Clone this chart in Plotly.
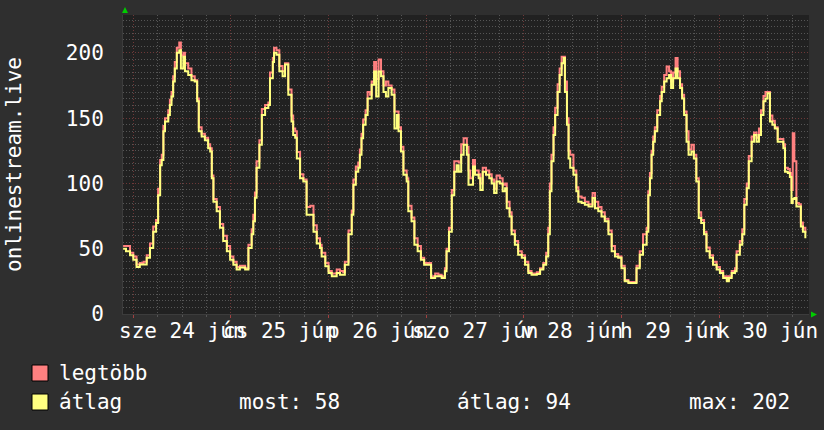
import pandas as pd
import plotly.graph_objects as go

# ---- data (hours since 2020-06-24 00:00) ----
hours = [-2.5, -1.8, -0.8, 0.0, 0.8, 1.6, 2.5, 3.3, 4.1, 4.9, 5.6, 6.1, 6.6, 7.0, 7.4, 7.8, 8.6, 9.0, 9.4, 9.8,
         10.2, 10.7, 11.3, 11.7, 12.3, 12.7, 13.5, 14.3, 15.1, 15.7, 16.1, 16.8, 17.6, 18.4, 18.9, 19.3, 19.7, 20.5,
         21.3, 22.1, 23.0, 23.8, 24.6, 25.4, 26.2, 27.5, 28.3, 29.1, 29.5, 29.9, 30.3, 31.0, 31.6, 32.4, 33.2, 33.6,
         34.3, 34.6, 35.2, 35.9, 36.7, 37.3, 38.1, 38.9, 39.3, 39.8, 40.2, 41.0, 41.8, 42.6, 43.5, 44.3, 45.1, 45.9,
         46.3, 47.2, 48.0, 48.8, 50.0, 50.8, 51.6, 52.0, 52.9, 53.7, 54.1, 54.7, 55.3, 55.7, 56.1, 56.5, 57.1, 57.6,
         58.2, 58.6, 59.2, 59.7, 60.3, 60.9, 61.5, 62.1, 62.7, 63.5, 64.2, 64.8, 65.2, 65.8, 66.4, 67.2, 67.6, 68.4,
         69.1, 69.9, 70.7, 71.5, 72.5, 73.2, 74.2, 75.0, 75.8, 76.6, 77.0, 77.6, 78.3, 78.9, 79.5, 80.0, 80.6, 81.2,
         82.0, 82.4, 82.8, 83.5, 84.0, 84.9, 85.3, 85.9, 86.7, 87.5, 88.1, 88.7, 89.3, 90.1, 90.8, 91.4, 91.8, 92.5,
         93.0, 93.8, 94.6, 95.5, 96.3, 97.1, 97.9, 99.2, 100.0, 100.8, 101.5, 102.0, 102.4, 102.8, 103.3, 103.7,
         104.3, 104.8, 105.3, 105.8, 106.1, 106.6, 107.0, 107.4, 108.2, 108.9, 109.4, 110.2, 111.0, 111.9, 112.9,
         113.5, 114.3, 115.1, 115.9, 116.8, 117.6, 118.4, 119.2, 120.0, 120.8, 121.7, 122.9, 123.7, 124.5, 125.3,
         126.2, 126.6, 127.0, 127.4, 127.8, 128.2, 128.8, 129.5, 129.9, 130.5, 131.1, 131.7, 132.2, 132.7, 133.3,
         133.8, 134.4, 134.9, 135.4, 136.0, 136.5, 137.2, 137.8, 138.4, 139.0, 139.6, 140.3, 140.9, 141.7, 142.5,
         143.4, 144.2, 145.0, 145.9, 146.4, 147.1, 147.9, 148.3, 149.1, 149.7, 150.2, 150.8, 151.3, 152.0, 152.6,
         153.2, 153.8, 154.3, 154.9, 155.4, 155.9, 156.5, 157.1, 157.7, 158.4, 159.2, 159.8, 160.2, 160.9, 161.4,
         161.8, 162.1, 162.5, 163.0, 163.6, 164.1, 164.6, 165.2]

atlag = [50, 48, 45, 41.5, 36, 38, 38, 43, 50.5, 63, 69.6, 91, 114, 118, 140, 147.5, 152.5, 160, 166.6, 178,
         188, 200, 202, 188, 197, 186, 183, 179, 178, 163, 140, 136, 133, 127, 124.5, 104, 86, 78.6,
         66, 56, 48, 41.5, 37.8, 34, 35.7, 34, 50.5, 61, 71, 89, 112, 129.6, 152.5, 157.7, 160, 180.6,
         193, 200, 198.5, 186, 182, 191, 168, 147.5, 137, 135, 119, 104, 101.5, 76, 76, 63, 54, 50.5,
         44, 36.5, 31.4, 29, 31.4, 30, 30, 37.8, 61, 76, 99, 109, 112, 122, 134.7, 145, 152.5, 165,
         165, 175.5, 185.7, 166.6, 185.7, 182, 170, 166.6, 173, 168, 142, 152.5, 140, 124.5, 106.6, 101.5, 78.6, 71,
         53, 48, 41.5, 37.8, 37.8, 27.6, 29, 29, 27.6, 32.7, 48, 63, 91, 109, 114, 109, 122, 129.6,
         122, 99, 99, 113, 106.6, 104, 95, 109, 106.6, 104, 100, 92.6, 101.5, 100, 94, 96.4, 81, 74.7,
         61, 53, 45.4, 43, 37.8, 31.4, 30, 30.6, 34, 37.8, 44, 61, 94, 117, 137, 152.5,
         170, 183, 192, 196, 170, 145, 119, 112, 106.6, 94, 86, 85, 83.7, 82.4, 88.8,
         81, 78.6, 74.7, 71, 61, 48, 44, 43, 35, 25, 23.7, 23.7, 35, 45.4, 53,
         63, 91, 104, 122, 132, 140, 152.5, 163, 170, 178, 180.6, 183, 173, 180.6, 188,
         180.6, 173, 165, 152.5, 132, 122, 124.5, 119, 101.5, 73.5, 69.6, 61, 48, 43, 37.8,
         34, 31.4, 27.6, 25, 27.6, 31.4, 32.7, 45.4, 53, 61, 83.7, 96.4, 117, 132, 137,
         132, 137, 152.5, 163, 165, 169, 147.5, 145, 142, 132, 132, 127, 109, 108, 105,
         85, 88, 88.8, 82.4, 82.4, 67, 63, 58]

legtobb = [52, 52, 47, 44, 38, 39, 40, 45, 54, 67, 72, 96, 118, 122, 144, 150, 156, 164, 170, 182,
           193, 204, 208, 198, 200, 192, 188, 182, 179, 165, 143, 138, 135, 130, 127, 106, 88, 82,
           69, 60, 52, 44, 40, 36, 37, 35, 53, 65, 76, 93, 117, 133, 157, 160, 162, 185,
           196, 204, 202, 190, 186, 192, 172, 152, 142, 140, 124, 107, 103, 82, 83, 68, 58, 53,
           47, 39, 33, 31, 34, 33, 32, 40, 64, 79, 103, 113, 116, 126, 138, 149, 156, 170,
           168, 178, 193, 180, 195, 186, 175, 178, 175, 172, 155, 155, 143, 128, 110, 104, 83, 74,
           58, 52, 43, 39, 39, 29, 31, 30, 29, 35, 50, 66, 95, 117, 117, 116, 130, 134.7,
           128, 110, 104, 118, 110, 107, 100, 112, 110, 107, 103, 96, 106, 104, 99, 100, 86, 78,
           64, 56, 48, 45, 40, 33, 31, 32, 35, 39, 47, 66, 100, 122, 143, 158,
           176, 188, 197, 197, 178, 150, 125, 122, 110, 97, 90, 89, 86, 84, 92.6,
           86, 82, 78, 73, 64, 52, 46, 44, 37, 26, 24.5, 24.5, 37, 48, 61,
           66, 94, 108, 125, 136, 143, 156, 167, 174, 183, 189.5, 186, 178, 185, 196,
           186, 176, 168, 155, 140, 126, 129.6, 122, 104, 78, 72, 63, 51, 45, 40,
           36, 33, 29, 26, 29, 33, 35, 48, 56, 65, 88, 100, 121, 136, 139,
           135, 142, 156, 167, 170, 170, 152, 148, 143, 134, 134, 130, 112, 111, 108,
           95, 138.5, 117, 85, 84, 70, 66, 62]

day_labels = ["sze 24 jún", "cs 25 jún", "p 26 jún", "szo 27 jún", "v 28 jún", "h 29 jún", "k 30 jún"]
y_ticks = [0, 50, 100, 150, 200]
series_names = ["legtöbb", "átlag"]
series_colors = ["#ff8080", "#ffff80"]
stat_names = ["most", "átlag", "max"]
stat_values = [58, 94, 202]
y_title = "onlinestream.live"

# ---- geometry ----
W, H = 824, 430
L, R, T, B = 123, 809, 15, 314
FONT = "DejaVu Sans Mono"
FS = 21


def px(x):
    return (x - L) / (R - L)


def py(y):
    return (B - y) / (B - T)


base = pd.Timestamp("2020-06-24 00:00")
xs = base + pd.to_timedelta(hours, unit="h")

fig = go.Figure()
fig.add_trace(go.Scatter(x=xs, y=legtobb, mode="lines", line=dict(color=series_colors[0], width=2, shape="hv"),
                         name=series_names[0], hoverinfo="skip"))
fig.add_trace(go.Scatter(x=xs, y=atlag, mode="lines", line=dict(color=series_colors[1], width=2, shape="hv"),
                         name=series_names[1], hoverinfo="skip"))

x0 = base + pd.Timedelta(hours=-2.53)
x1 = base + pd.Timedelta(hours=166.1)

major_grid = "#6e3838"
minor_grid = "#555555"

fig.update_layout(
    width=W, height=H,
    margin=dict(l=L, r=W - R, t=T, b=H - B, pad=0),
    paper_bgcolor="#2f2f2f",
    plot_bgcolor="#212121",
    showlegend=False,
    font=dict(family=FONT, size=FS, color="#ffffff"),
    xaxis=dict(
        range=[x0, x1], type="date",
        tick0=base, dtick=86400000,
        showgrid=True, gridcolor=major_grid, griddash="1px,2px", gridwidth=1,
        showticklabels=False, ticks="outside", ticklen=3, tickcolor="#a04040",
        zeroline=False, showline=True, linecolor="#3c3c3c", linewidth=1,
        minor=dict(dtick=6 * 3600000, showgrid=True, gridcolor=minor_grid, griddash="1px,2px",
                   ticks="outside", ticklen=2, tickcolor="#555555"),
        fixedrange=True,
    ),
    yaxis=dict(
        range=[0, 229], tickmode="array", tickvals=y_ticks, ticktext=[str(v) for v in y_ticks],
        showgrid=True, gridcolor=major_grid, griddash="1px,2px", gridwidth=1,
        tickfont=dict(family=FONT, size=FS, color="#ffffff"),
        ticks="", ticklabelstandoff=14,
        zeroline=False, showline=True, linecolor="#3c3c3c", linewidth=1,
        minor=dict(dtick=5, tick0=0, showgrid=True, gridcolor=minor_grid, griddash="1px,2px"),
        fixedrange=True,
    ),
)

ann = []
for i, lab in enumerate(day_labels):
    ann.append(dict(x=base + pd.Timedelta(days=i, hours=12), xref="x", y=py(331), yref="paper",
                    text=lab, showarrow=False, xanchor="center", yanchor="middle",
                    font=dict(family=FONT, size=FS, color="#ffffff")))

ann.append(dict(x=px(14), y=py(165), xref="paper", yref="paper", text=y_title, textangle=-90,
                showarrow=False, xanchor="center", yanchor="middle",
                font=dict(family=FONT, size=FS, color="#ffffff")))

rows_y = [373, 402]
for name, ry in zip(series_names, rows_y):
    ann.append(dict(x=px(57), y=py(ry), xref="paper", yref="paper", text=name, showarrow=False,
                    xanchor="left", yanchor="middle", font=dict(family=FONT, size=FS, color="#ffffff")))

stat_x = [237, 455, 687]
for nm, val, sx in zip(stat_names, stat_values, stat_x):
    ann.append(dict(x=px(sx), y=py(402), xref="paper", yref="paper", text=f"{nm}: {val}", showarrow=False,
                    xanchor="left", yanchor="middle", font=dict(family=FONT, size=FS, color="#ffffff")))

shapes = []
for col, ry in zip(series_colors, rows_y):
    shapes.append(dict(type="rect", xref="paper", yref="paper", x0=px(32), x1=px(48),
                       y0=py(ry - 8), y1=py(ry + 8), fillcolor=col, line=dict(color="#000000", width=1)))

# axis arrows
shapes.append(dict(type="path", xref="paper", yref="paper",
                   path=f"M {px(122)} {py(13)} L {px(128)} {py(13)} L {px(125)} {py(7)} Z",
                   fillcolor="#00cc00", line=dict(width=0)))
shapes.append(dict(type="path", xref="paper", yref="paper",
                   path=f"M {px(811)} {py(311.5)} L {px(811)} {py(317.5)} L {px(817)} {py(314.5)} Z",
                   fillcolor="#00cc00", line=dict(width=0)))

fig.update_layout(annotations=ann, shapes=shapes)
fig.write_html("out.html")
